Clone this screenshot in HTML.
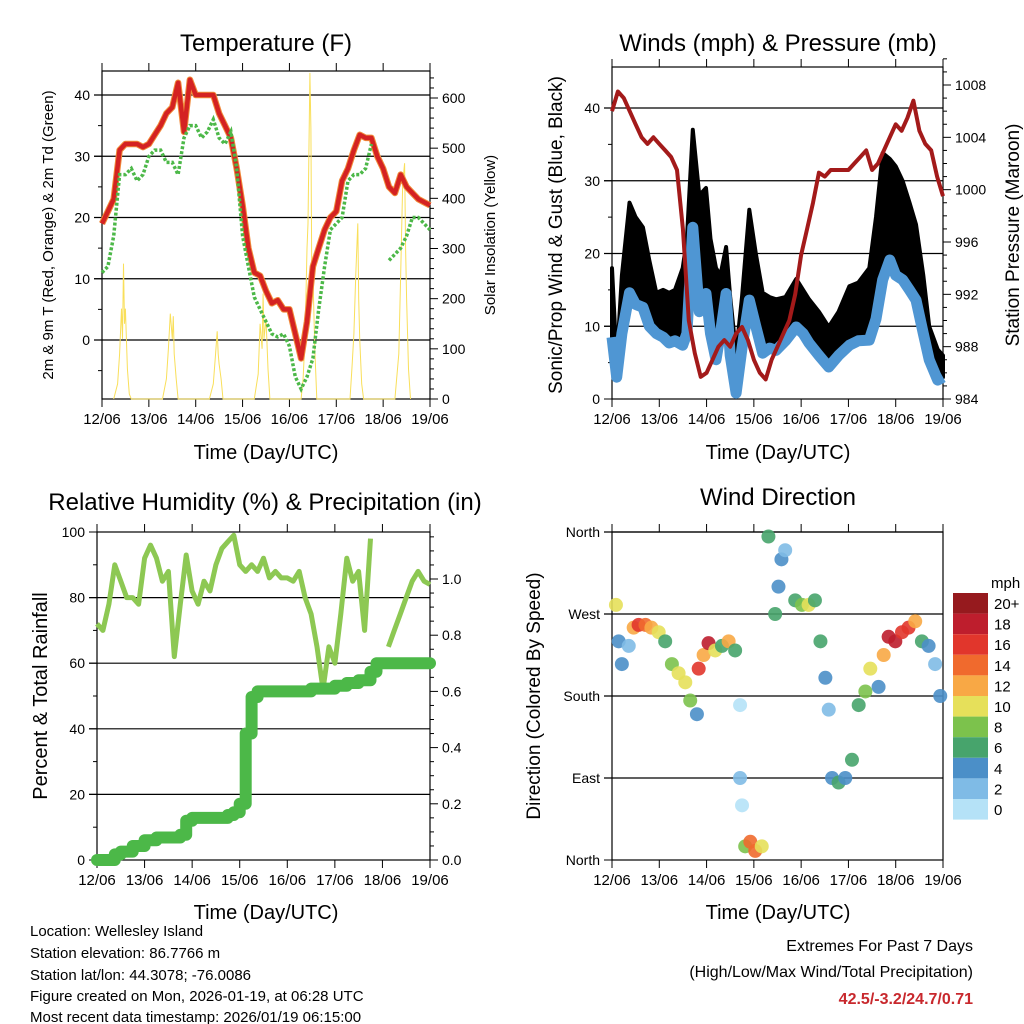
<!DOCTYPE html>
<html><head><meta charset="utf-8"><style>
body{margin:0;background:#fff}
svg{display:block;font-family:"Liberation Sans",sans-serif}
</style></head><body>
<svg id="c" width="1024" height="1024" viewBox="0 0 1024 1024">
<g font-size="24" text-anchor="middle">
<text x="266" y="51">Temperature (F)</text>
<text x="778" y="51">Winds (mph) &amp; Pressure (mb)</text>
<text x="265" y="510">Relative Humidity (%) &amp; Precipitation (in)</text>
<text x="778" y="505">Wind Direction</text>
</g>
<g font-size="20" text-anchor="middle">
<text x="266" y="459">Time (Day/UTC)</text>
<text x="778" y="459">Time (Day/UTC)</text>
<text x="266" y="919">Time (Day/UTC)</text>
<text x="778" y="919">Time (Day/UTC)</text>
<text transform="translate(53,235) rotate(-90)" font-size="15">2m &amp; 9m T (Red, Orange) &amp; 2m Td (Green)</text>
<text transform="translate(495,235) rotate(-90)" font-size="15">Solar Insolation (Yellow)</text>
<text transform="translate(562,235) rotate(-90)" font-size="19">Sonic/Prop Wind &amp; Gust (Blue, Black)</text>
<text transform="translate(1019,235) rotate(-90)" font-size="19">Station Pressure (Maroon)</text>
<text transform="translate(47,696) rotate(-90)">Percent &amp; Total Rainfall</text>
<text transform="translate(540,696) rotate(-90)" font-size="19">Direction (Colored By Speed)</text>
</g>
<g font-size="15">
<text x="30" y="936">Location: Wellesley Island</text>
<text x="30" y="958">Station elevation: 86.7766 m</text>
<text x="30" y="980">Station lat/lon: 44.3078; -76.0086</text>
<text x="30" y="1001">Figure created on Mon, 2026-01-19, at 06:28 UTC</text>
<text x="30" y="1022">Most recent data timestamp: 2026/01/19 06:15:00</text>
</g>
<g font-size="16" text-anchor="end">
<text x="973" y="951">Extremes For Past 7 Days</text>
<text x="973" y="977">(High/Low/Max Wind/Total Precipitation)</text>
<text x="973" y="1004" fill="#c8282d" font-weight="bold">42.5/-3.2/24.7/0.71</text>
</g>
</svg>
<script>
const dayLabels=["12/06","13/06","14/06","15/06","16/06","17/06","18/06","19/06"];
const hours3=[0,3,6,9,12,15,18,21,24,27,30,33,36,39,42,45,48,51,54,57,60,63,66,69,72,75,78,81,84,87,90,93,96,99,102,105,108,111,114,117,120,123,126,129,132,135,138,141,144,147,150,153,156,159,162,165,168];
const tempT=[19,21,23,31,32,32,32,31.5,32,33.5,35,37,38,42,34,42.5,40,40,40,40,37,35,33,28,22,15,11,10.5,8,6,6.5,5,5,1,-3,3,12,15,18,20,21,26,28,31,33.5,33,33,30,28,25,24,27,25,24,23,22.5,22];
const tempTd=[11,12,17,27,27,28,26,27,30,31,31,29,29,27,33,35,35,33,34,36,33,32,34,28,17,12,7,5,3,1,0.5,1,-1,-6,-8,-6,-3,5,12,18,19,20,26,27,27,28,32,null,null,13,14,15,17,20,20,19,18];
const solarH=[6,8,9,10,10.5,11,11.5,12,13,14,15, 31,33,34,35,36,36.5,37,38,39,40, 55,57,58,59,59.5,60,61,62, 78,80,81,82,82.5,83,84,85,86, 102,103,104,105,105.5,106.5,107,107.5,108,109,110, 127,128,129,130,131,131.5,132,133,134, 150,152,153,154,155,155.5,156,157,158];
const solarV=[0,30,90,180,120,270,150,180,60,10,0, 0,40,100,170,120,165,90,40,0,0, 0,30,80,135,90,70,40,0, 0,50,150,100,210,120,160,60,0, 0,40,120,300,350,650,540,200,250,100,0, 0,60,130,250,350,200,120,30,0, 0,90,250,430,470,300,200,60,0];
const windH=[0,2.4,5,8.9,12,15.7,19,22.5,26,29,32,35.9,38,41,44.3,47.7,50,52.8,55,57.9,60,63,66,69.7,73,76.5,80,83.3,88,93.5,97,100,105,110,115,120.5,125,130.6,134,137.4,141,144,147.5,151,154.3,158,161,165.3,168];
const windMean=[8.5,3,9,14.6,13,12.6,10,9,8.5,7.7,8,7.4,9,23.6,12,14.5,9,5.4,9,14.5,6,0.8,7,13.6,10,6.3,7,6.7,8,9.9,9,7.7,6,4.4,6,7.4,8,8.1,11,16.4,19.1,17,16.4,15,13.6,9,5.4,2.6,3];
const windGust=[18,5,17,27,25,23.6,19,14.6,15,14.6,15,18,22,37,28,29,22,18,17,20.9,14,6.3,14,26,20,14.6,14,13.7,14,16.5,15,13.7,12,9.9,12,15.5,16,18,25,33.8,33,32,30,27,24,17,10,6.8,6];
const pressure=[1006,1007.5,1007,1006,1005,1004,1003.5,1004,1003.5,1003,1002.5,1001.5,997,990,987.5,985.7,986,987,988,988.5,988,989,989.5,988.5,987,986,985.5,987,988,989,990,992,995,997,999,1001.3,1001,1001.5,1001.5,1001.5,1001.5,1002,1002.5,1003,1001.5,1002,1003,1004,1005,1004.5,1005.5,1006.8,1004.5,1003.5,1003,1001,999.5];
const rh=[72,70,78,90,85,80,80,78,92,96,92,85,88,62,78,93,82,78,85,82,90,95,97,99,90,88,90,88,92,86,88,86,86,85,88,80,75,65,52,65,60,75,92,85,88,70,98,null,null,65,70,75,80,85,88,85,84];
const precipH=[0,6,9,12,18,24,30,36,42,45,48,60,66,69,72,75,78,81,84,96,108,120,126,132,138,141,168];
const precipV=[0,0,0.02,0.03,0.05,0.07,0.08,0.08,0.09,0.14,0.15,0.15,0.16,0.17,0.2,0.45,0.58,0.6,0.6,0.6,0.61,0.62,0.63,0.64,0.67,0.7,0.7];
const dirH=[2,3.4,5,8.5,11,13.5,17,20,23.7,27,30.4,33.8,37.2,39.7,43.1,44,46.5,49,52.4,55.8,59.2,62.5,65,65,66,67.6,70.2,72.7,76,79.4,82.8,84.5,86,87.9,93,96.4,99.8,103,105.8,108.3,110,111.7,115,118.4,121.8,125.2,128.6,131.1,135.3,137.9,140.4,143.8,147.2,150.5,153.9,157.3,160.7,164,166.6];
const dirV=[280,240,215,235,255,258,258,255,250,240,215,205,195,175,160,210,225,238,230,235,240,230,170,90,60,15,20,10,15,355,270,300,330,340,285,280,280,285,240,200,165,90,85,90,110,170,185,210,190,225,245,240,250,255,262,240,235,215,180];
const dirSpd=[10,4,4,3,13,16,15,13,10,7,8,10,10,8,5,16,12,18,10,7,13,6,1,2,1,8,14,15,10,7,6,4,4,3,6,8,10,6,7,4,3,4,6,4,7,6,8,10,5,13,19,18,16,17,13,7,5,3,4];
const speedBins=["0","2","4","6","8","10","12","14","16","18","20+"];
const speedColors=["#b5e2f7","#7fbbe6","#4b8fc8","#47a46c","#7cc24c","#e6e05a","#f8a845","#f06a2d","#e1362c","#be1e2d","#961a1e"];

const svg=document.getElementById('c');const NS='http://www.w3.org/2000/svg';
function mk(tag,attrs,parent){const e=document.createElementNS(NS,tag);for(const k in attrs)e.setAttribute(k,attrs[k]);(parent||svg).appendChild(e);return e;}
function xs(x0,x1){return h=>x0+(x1-x0)*h/168;}
function lin(v0,p0,v1,p1){return v=>p0+(v-v0)*(p1-p0)/(v1-v0);}
function pathOf(hs,vs,X,Y){let d='',pen=false;for(let i=0;i<hs.length;i++){if(vs[i]==null){pen=false;continue;}d+=(pen?'L':'M')+X(hs[i]).toFixed(1)+' '+Y(vs[i]).toFixed(1);pen=true;}return d;}
function stepPath(hs,vs,X,Y){let d='M'+X(hs[0])+' '+Y(vs[0]);for(let i=1;i<hs.length;i++){d+='L'+X(hs[i]).toFixed(1)+' '+Y(vs[i-1]).toFixed(1)+'L'+X(hs[i]).toFixed(1)+' '+Y(vs[i]).toFixed(1);}return d;}

function frame(name,x0,x1,y0,y1,L,R,grid){
  const g=mk('g',{});
  
  
  const X=xs(x0,x1);
  grid.forEach(y=>{const l=mk('line',{x1:x0-8,x2:x1,y1:y,y2:y,stroke:'#000','stroke-width':1.2},g);});
  mk('rect',{x:x0,y:y0,width:x1-x0,height:y1-y0,fill:'none',stroke:'#000','stroke-width':1.2},g);
  dayLabels.forEach((lab,i)=>{const x=X(i*24);
    mk('line',{x1:x,x2:x,y1:y1,y2:y1+8,stroke:'#000'},g);
    mk('line',{x1:x,x2:x,y1:y0,y2:y0-8,stroke:'#000'},g);
    const t=mk('text',{x:x,y:y1+25,'font-size':15,'text-anchor':'middle'},g);t.textContent=lab;
    });
  L.forEach(([y,lab,maj])=>{mk('line',{x1:x0,x2:x0-(maj?8:4),y1:y,y2:y,stroke:'#000'},g);
    if(lab!==''){const t=mk('text',{x:x0-12,y:y+5,'font-size':14,'text-anchor':'end'},g);t.textContent=lab;}});
  R.forEach(([y,lab,maj])=>{mk('line',{x1:x1,x2:x1+(maj?8:4),y1:y,y2:y,stroke:'#000'},g);
    if(lab!==''){const t=mk('text',{x:x1+12,y:y+5,'font-size':14},g);t.textContent=lab;}});
  return X;
}
function ticks(start,end,step,Y,fmt,majorEvery){const a=[];let i=0;for(let v=start;v<=end+1e-9;v+=step,i++){const maj=(i%majorEvery===0);a.push([Y(v),maj?fmt(v):'',maj]);}return a;}

// ---- Temperature panel
{const x0=102,x1=430,y0=71,y1=399;
 const YT=lin(0,340,40,95),YS=lin(0,399,600,98);
 const L=ticks(-5,40,5,YT,v=>String(v),2).map((t,i)=>[t[0],i%2===1?String(-5+5*i):'',i%2===1]);
 const R=ticks(0,640,20,YS,v=>String(v),5);
 const X=frame('temperature',x0,x1,y0,y1,L,R,[0,10,20,30,40].map(YT));
 const s=mk('path',{d:pathOf(solarH,solarV,X,YS),fill:'none',stroke:'#f9df5a','stroke-width':1});
 
 const o=mk('path',{d:pathOf(hours3,tempT,X,YT),fill:'none',stroke:'#f08a3a','stroke-width':6.5,'stroke-linejoin':'round'});
 
 const r=mk('path',{d:pathOf(hours3,tempT,X,YT),fill:'none',stroke:'#d42222','stroke-width':4.5,'stroke-linejoin':'round'});
 
 const d=mk('path',{d:pathOf(hours3,tempTd,X,YT),fill:'none',stroke:'#4cb848','stroke-width':3.5,'stroke-dasharray':'3 2'});
 }

// ---- Wind panel
{const x0=612,x1=943,y0=67,y1=399;
 const YW=lin(0,399,40,108),YP=lin(984,399,1008,85);
 const L=ticks(0,44,5,YW,v=>String(v),2);
 const R=ticks(984,1010,1,YP,v=>String(v),4);
 const X=frame('winds',x0,x1,y0,y1,L,R,[10,20,30,40].map(YW));
 let dd=pathOf(windH,windGust,X,YW);
 for(let i=windH.length-1;i>=0;i--)dd+='L'+X(windH[i]).toFixed(1)+' '+YW(windMean[i]).toFixed(1);
 const gp=mk('path',{d:dd+'Z',fill:'#000',stroke:'#000','stroke-width':4,'stroke-linejoin':'round'});
 
 const b=mk('path',{d:pathOf(windH,windMean,X,YW),fill:'none',stroke:'#4f96d3','stroke-width':11,'stroke-linejoin':'round'});
 
 const p=mk('path',{d:pathOf(hours3,pressure,X,YP),fill:'none',stroke:'#a31a1a','stroke-width':4,'stroke-linejoin':'round'});
 }

// ---- RH panel
{const x0=97,x1=430,y0=532,y1=860;
 const YR=lin(0,860,100,532),YQ=lin(0,860,1,579);
 const L=ticks(0,100,10,YR,v=>String(v),2);
 const R=ticks(0,1.16,0.05,YQ,v=>v.toFixed(1),4);
 const X=frame('humidity',x0,x1,y0,y1,L,R,[20,40,60,80].map(YR));
 const r=mk('path',{d:pathOf(hours3,rh,X,YR),fill:'none',stroke:'#8dc853','stroke-width':5,'stroke-linejoin':'round'});
 
 const q=mk('path',{d:stepPath(precipH,precipV,X,YQ),fill:'none',stroke:'#4cb848','stroke-width':12,'stroke-linejoin':'round','stroke-linecap':'round'});
 }

// ---- Direction panel
{const x0=612,x1=943,y0=532,y1=860;
 const YD=lin(0,860,360,532);
 const lab=['North','East','South','West','North'];
 const L=[0,90,180,270,360].map((v,i)=>[YD(v),lab[i],true]);
 const X=frame('direction',x0,x1,y0,y1,L,[],[90,180,270,360].map(YD));
 const col=s=>speedColors[Math.min(10,Math.floor(s/2))];
 dirH.forEach((h,i)=>{const c=mk('circle',{cx:X(h),cy:YD(dirV[i]),r:7,fill:col(dirSpd[i]),'fill-opacity':0.9});
   });
 const lg=mk('g',{});
 const t=mk('text',{x:991,y:588,'font-size':15},lg);t.textContent='mph';
 for(let k=0;k<11;k++){const idx=10-k;const y=593+k*20.6;
   const r=mk('rect',{x:953,y:y,width:35,height:20.6,fill:speedColors[idx]},lg);
   
   const tx=mk('text',{x:994,y:y+16,'font-size':15},lg);tx.textContent=speedBins[idx];
   }
}
</script>
</body></html>
